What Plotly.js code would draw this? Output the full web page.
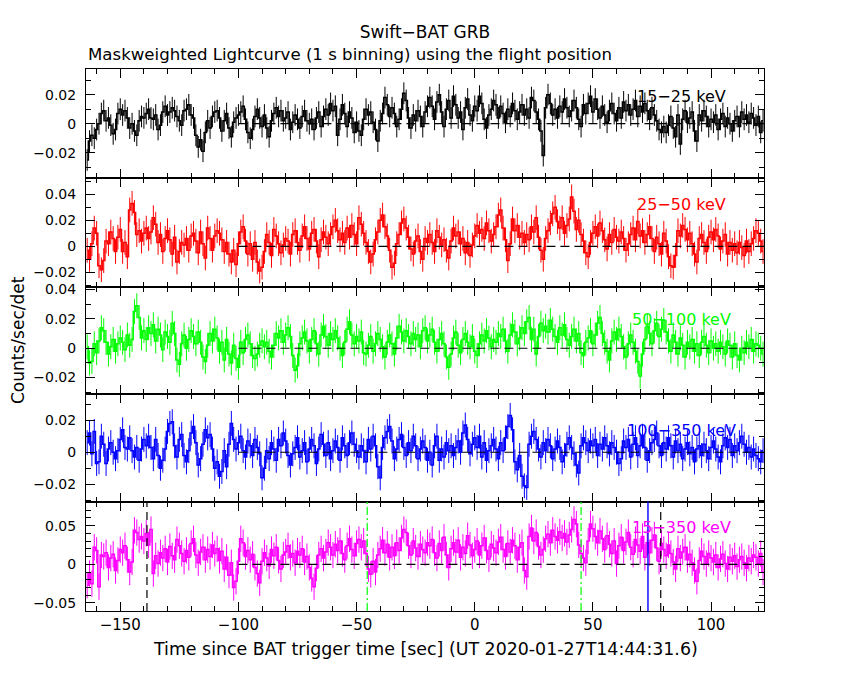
<!DOCTYPE html>
<html><head><meta charset="utf-8">
<script src="https://cdn.plot.ly/plotly-3.0.1.min.js"></script>
<style>body{margin:0;background:#fff}#chart{width:850px;height:680px}</style>
</head><body><div id="chart"></div>
<script>
// Bin centres, seconds since BAT trigger (1 s binning)
const timeSec = [
-164,-163,-162,-161,-160,-159,-158,-157,-156,-155,-154,-153,-152,-151,-150,-149,-148,-147,-146,-145,
-144,-143,-142,-141,-140,-139,-138,-137,-136,-135,-134,-133,-132,-131,-130,-129,-128,-127,-126,-125,
-124,-123,-122,-121,-120,-119,-118,-117,-116,-115,-114,-113,-112,-111,-110,-109,-108,-107,-106,-105,
-104,-103,-102,-101,-100,-99,-98,-97,-96,-95,-94,-93,-92,-91,-90,-89,-88,-87,-86,-85,
-84,-83,-82,-81,-80,-79,-78,-77,-76,-75,-74,-73,-72,-71,-70,-69,-68,-67,-66,-65,
-64,-63,-62,-61,-60,-59,-58,-57,-56,-55,-54,-53,-52,-51,-50,-49,-48,-47,-46,-45,
-44,-43,-42,-41,-40,-39,-38,-37,-36,-35,-34,-33,-32,-31,-30,-29,-28,-27,-26,-25,
-24,-23,-22,-21,-20,-19,-18,-17,-16,-15,-14,-13,-12,-11,-10,-9,-8,-7,-6,-5,
-4,-3,-2,-1,0,1,2,3,4,5,6,7,8,9,10,11,12,13,14,15,
16,17,18,19,20,21,22,23,24,25,26,27,28,29,30,31,32,33,34,35,
36,37,38,39,40,41,42,43,44,45,46,47,48,49,50,51,52,53,54,55,
56,57,58,59,60,61,62,63,64,65,66,67,68,69,70,71,72,73,74,75,
76,77,78,79,80,81,82,83,84,85,86,87,88,89,90,91,92,93,94,95,
96,97,98,99,100,101,102,103,104,105,106,107,108,109,110,111,112,113,114,115,
116,117,118,119,120,121,122];

// Count rates (counts/sec/det)
const rate15_25 = [
-0.025,-0.012,-0.008,-0.010,-0.004,
0.000,0.007,0.009,0.002,0.004,-0.001,-0.007,-0.004,0.007,0.010,
0.006,0.009,0.004,-0.003,0.000,-0.005,-0.008,0.002,0.005,0.004,
0.007,0.010,0.004,0.003,0.006,-0.004,-0.001,0.008,0.012,0.006,
0.008,0.011,0.009,0.005,0.002,-0.001,0.009,0.010,0.013,0.006,
0.004,-0.008,-0.016,-0.011,-0.019,-0.006,0.002,-0.003,0.005,0.008,
0.009,0.004,-0.005,0.002,0.007,-0.003,-0.009,0.001,0.004,0.006,
0.008,0.012,0.003,-0.006,-0.010,-0.004,0.005,0.010,0.004,-0.002,
0.006,-0.003,-0.009,0.002,0.007,0.011,0.005,0.009,0.002,0.004,
0.008,-0.004,0.001,0.006,0.003,-0.003,0.005,0.009,0.002,0.000,
0.003,-0.004,0.004,0.008,-0.002,0.005,0.010,0.006,0.014,0.009,
0.012,-0.008,0.003,0.013,0.007,-0.002,0.008,0.004,-0.006,0.001,
-0.005,-0.008,0.003,0.010,0.006,0.008,0.001,-0.004,-0.012,0.002,
0.007,0.018,0.013,0.005,0.011,0.007,-0.002,0.003,0.010,0.021,
0.016,0.004,-0.003,0.006,0.002,0.009,0.005,-0.002,0.008,0.012,
0.018,0.012,0.003,0.015,0.020,0.008,-0.002,0.010,0.016,0.004,
0.019,0.013,0.004,0.008,-0.004,0.011,0.017,0.006,0.002,0.012,
0.009,0.019,0.014,0.003,-0.003,0.006,0.010,0.016,0.013,0.004,
0.012,0.007,0.001,0.010,0.005,0.014,0.009,0.003,0.008,0.013,
0.006,0.010,0.004,0.018,0.016,0.008,0.003,-0.005,-0.022,0.011,
0.020,0.014,0.006,0.010,0.004,0.012,0.008,0.017,0.011,0.005,
0.009,0.016,0.011,0.003,-0.002,0.013,0.007,0.014,0.019,0.008,
0.017,0.010,0.004,0.012,0.006,0.001,0.009,0.014,0.007,0.002,
0.011,0.004,0.015,0.009,0.013,0.006,0.010,0.016,0.005,0.012,
0.008,0.014,0.009,0.003,0.011,0.006,0.002,-0.004,-0.006,-0.002,
-0.006,-0.001,0.005,-0.003,-0.009,0.006,-0.014,0.003,0.009,0.001,
0.004,0.008,-0.005,-0.012,0.006,0.002,0.009,0.005,-0.002,0.003,
0.001,0.006,-0.004,0.003,0.007,-0.002,0.004,0.000,-0.005,0.002,
0.005,-0.002,0.008,0.003,0.006,0.001,0.007,0.004,-0.001,0.005,
-0.006,0.002];

const rate25_50 = [
-0.003,-0.010,0.002,0.014,0.010,
-0.015,-0.018,-0.011,0.004,0.002,0.011,0.006,-0.004,0.007,0.013,
-0.004,0.003,-0.008,0.028,0.033,0.026,0.009,0.012,0.004,0.010,
0.014,0.006,0.011,0.022,0.017,0.003,0.009,-0.004,0.006,0.012,
0.005,-0.006,0.007,-0.012,-0.004,0.003,0.001,0.006,-0.003,0.008,
0.010,0.004,-0.005,0.011,0.002,-0.009,0.014,0.006,-0.003,0.008,
0.012,0.010,0.005,-0.004,0.003,-0.006,-0.012,-0.003,-0.014,0.002,
0.011,0.015,0.004,-0.006,0.002,-0.010,0.003,-0.012,-0.019,-0.016,
-0.004,0.009,0.003,-0.007,0.013,0.008,0.002,-0.005,0.001,0.006,
0.004,-0.006,0.009,0.012,0.003,-0.003,0.008,0.015,0.006,-0.002,
0.010,0.013,0.004,-0.008,0.005,0.011,0.007,0.002,0.009,0.015,
0.020,0.012,0.005,0.010,0.003,0.014,0.007,0.016,0.009,0.002,
0.022,0.017,0.010,0.003,-0.004,-0.012,-0.006,0.005,0.011,0.020,
0.024,0.015,0.008,-0.003,-0.016,-0.013,0.002,0.009,0.018,0.021,
0.014,0.007,-0.002,-0.006,0.004,0.008,-0.004,-0.010,0.006,0.003,
0.009,0.003,-0.004,0.012,0.007,0.001,0.005,-0.003,-0.009,0.004,
0.014,0.008,0.011,0.002,0.006,-0.005,0.003,-0.007,0.001,0.008,
0.016,0.010,0.013,0.006,0.018,0.012,0.004,0.009,0.015,0.024,
0.028,0.014,0.005,-0.011,0.002,0.021,0.012,0.016,0.007,0.010,
0.003,0.009,0.005,0.015,0.011,0.022,0.007,-0.003,-0.010,0.006,
0.012,0.018,0.025,0.030,0.019,0.014,0.022,0.010,0.016,0.021,
0.038,0.027,0.013,0.020,0.009,0.004,-0.005,-0.008,0.003,0.010,
0.015,0.008,0.018,0.012,0.005,-0.002,0.009,0.003,0.013,0.007,
0.004,0.011,0.006,-0.003,0.002,0.009,0.014,0.005,0.019,0.008,
0.012,0.003,0.009,0.015,0.006,-0.004,0.007,0.002,-0.006,0.010,
0.004,-0.008,-0.015,-0.016,-0.007,0.012,0.008,0.016,0.013,0.005,
0.010,0.002,-0.006,-0.012,0.006,0.009,0.003,-0.004,0.007,0.011,
0.005,0.013,0.008,-0.002,0.004,0.009,-0.006,0.003,-0.003,0.002,
-0.005,0.003,-0.001,-0.007,0.004,-0.004,0.002,0.006,0.012,0.010,
0.004,-0.004];

const rate50_100 = [
0.001,-0.010,-0.009,0.003,-0.003,
0.005,0.014,0.012,0.004,-0.004,0.001,0.006,-0.002,0.003,0.007,
0.004,-0.001,0.009,0.002,0.006,0.025,0.029,0.021,0.007,0.012,
0.006,0.014,0.010,0.016,0.005,0.013,0.009,-0.001,0.011,0.008,
0.004,0.017,0.010,-0.008,-0.011,0.003,0.009,0.000,0.006,0.012,
0.008,0.003,0.011,0.004,-0.006,-0.009,0.002,0.010,0.005,0.013,
0.007,-0.002,0.004,-0.008,0.006,-0.004,-0.010,0.002,-0.007,-0.013,
0.004,-0.003,0.006,0.009,0.003,-0.005,-0.007,-0.004,0.002,0.005,
0.001,0.004,-0.002,-0.006,0.002,0.010,0.007,0.012,0.004,0.009,
0.014,0.008,-0.005,-0.015,-0.012,0.003,0.007,0.011,0.005,-0.002,
0.006,0.012,0.003,-0.004,0.009,0.015,0.008,0.002,0.010,0.006,
0.012,0.007,0.000,-0.005,0.004,0.013,0.018,0.009,0.003,0.008,
0.005,0.011,-0.003,-0.004,0.002,0.008,-0.002,0.003,0.010,0.006,
0.001,-0.006,0.004,0.009,0.003,-0.004,0.007,0.015,0.011,0.005,
0.012,0.008,0.003,0.010,0.006,0.009,0.001,0.012,0.014,0.005,
0.009,0.013,0.004,-0.002,0.006,0.010,0.003,-0.006,-0.013,-0.004,
0.007,0.011,0.002,-0.003,0.006,0.010,0.004,0.001,0.008,-0.002,
-0.005,0.003,0.009,0.005,0.012,0.007,0.001,0.006,0.004,0.010,
0.008,0.013,0.005,-0.002,0.009,0.016,0.011,0.003,0.007,0.014,
0.010,0.018,0.021,0.006,0.013,-0.004,0.008,0.017,0.012,0.015,
0.011,0.019,0.013,0.008,0.004,0.014,0.009,0.016,0.006,0.002,
0.008,0.013,0.005,0.010,-0.003,-0.005,0.004,0.007,0.012,0.003,
0.009,0.017,0.021,0.010,0.004,-0.002,-0.008,0.005,0.011,0.006,
0.013,0.008,0.001,-0.006,0.003,0.009,0.004,-0.002,-0.009,-0.019,
-0.004,0.006,0.015,0.010,0.003,0.012,0.017,0.008,0.013,0.019,
0.011,0.005,-0.002,0.009,0.004,-0.004,0.007,0.002,-0.006,0.004,
0.001,0.006,-0.002,0.003,-0.005,0.004,0.008,0.002,-0.003,0.005,
0.000,0.003,-0.002,0.004,0.001,-0.004,0.005,0.002,-0.006,0.003,
-0.005,-0.008,0.000,-0.003,0.004,0.001,0.006,-0.002,0.003,0.002,
0.000,-0.004];

const rate100_350 = [
0.006,0.012,-0.001,0.013,-0.007,
-0.006,0.010,0.005,-0.007,0.002,0.006,0.000,-0.004,0.001,0.008,
0.014,0.003,0.002,0.009,0.001,-0.003,0.003,-0.005,0.002,0.008,
0.004,0.010,0.003,-0.004,0.008,-0.002,-0.010,-0.005,0.002,0.013,
0.018,0.019,0.004,-0.003,0.008,0.011,-0.002,-0.006,0.001,0.012,
0.016,0.006,-0.008,-0.004,0.005,0.014,0.009,0.011,0.002,-0.010,
-0.006,-0.015,-0.012,0.001,-0.009,0.005,0.018,0.008,0.002,0.006,
0.010,0.001,-0.003,0.007,0.004,-0.002,0.008,0.003,-0.001,-0.016,
-0.010,0.001,-0.004,0.006,0.002,-0.005,0.008,0.004,0.012,0.007,
-0.002,-0.008,-0.001,0.003,0.009,-0.003,0.001,0.006,-0.006,0.002,
0.008,0.004,-0.007,0.002,0.011,0.005,-0.002,0.006,-0.004,0.001,
0.007,0.003,-0.005,0.009,0.004,-0.002,0.006,0.012,0.005,0.001,
-0.003,0.004,0.001,-0.006,0.008,0.002,0.010,0.004,-0.009,-0.016,
0.003,0.009,0.013,0.016,0.007,-0.004,0.002,0.008,0.011,0.003,
-0.002,0.006,0.001,0.010,0.004,-0.004,0.002,0.007,0.003,-0.005,
0.000,-0.008,0.004,0.010,-0.005,0.002,-0.003,0.006,0.001,0.004,
-0.002,0.003,0.007,0.000,0.012,0.017,0.008,-0.001,0.005,0.009,
0.003,0.010,-0.003,0.006,-0.005,0.001,0.004,0.008,0.002,-0.004,
0.006,0.001,0.009,0.016,0.023,0.014,-0.006,-0.011,-0.002,-0.015,
-0.021,-0.022,0.005,0.010,0.013,0.008,0.002,-0.003,0.006,0.001,
0.008,0.004,-0.004,0.002,0.007,0.003,-0.006,-0.002,0.005,0.009,
0.003,-0.001,-0.008,-0.013,0.004,0.009,0.006,0.001,0.007,0.004,
0.008,-0.002,0.005,0.002,0.009,0.004,-0.001,0.006,0.003,0.000,
-0.007,-0.004,0.007,0.003,0.008,-0.003,0.005,0.009,-0.002,0.004,
0.010,0.003,-0.005,0.001,0.006,0.008,0.012,0.004,-0.002,0.006,
0.002,0.009,0.004,-0.003,0.007,0.001,0.005,-0.004,0.002,0.006,
-0.001,0.003,-0.006,0.002,0.004,-0.002,0.005,0.001,-0.004,0.003,
0.007,0.002,-0.003,-0.006,0.004,0.009,0.003,0.008,-0.002,0.004,
0.001,0.006,0.010,0.005,0.000,0.003,-0.003,0.002,-0.002,-0.004,
-0.006,0.001];

const rate15_350 = [
-0.027,-0.012,-0.025,0.022,0.018,
-0.029,0.012,0.010,0.015,-0.004,0.008,0.013,-0.008,0.005,0.019,
0.015,0.024,0.006,-0.010,0.003,0.044,0.041,0.032,0.036,0.030,
0.040,0.025,0.045,-0.012,0.011,0.001,0.015,0.008,0.020,0.003,
0.023,0.011,0.006,0.032,0.024,0.014,0.004,0.018,0.009,0.027,
0.033,0.012,0.002,0.016,0.022,0.006,0.019,0.010,0.025,0.014,
0.020,0.005,0.017,-0.006,0.009,-0.014,0.002,-0.030,-0.022,0.004,
0.033,0.028,0.010,0.018,0.006,0.013,-0.004,-0.012,-0.024,0.004,
0.015,0.008,-0.002,0.019,0.011,0.022,0.005,-0.006,0.012,0.016,
0.024,0.009,0.014,0.002,0.017,0.012,0.020,0.003,0.010,-0.004,
-0.018,-0.029,-0.005,0.012,0.020,0.008,0.016,0.028,0.022,0.012,
0.026,0.018,0.030,0.014,0.006,0.024,0.033,0.019,0.011,0.027,
0.032,0.022,0.030,0.014,-0.006,-0.013,0.004,-0.010,0.012,0.020,
0.031,0.015,0.026,0.009,0.022,0.011,0.028,0.018,0.034,0.045,
0.041,0.024,0.012,0.030,0.021,0.010,0.026,0.019,0.015,0.028,
0.024,0.032,0.015,0.008,0.027,0.018,0.035,0.012,-0.004,0.020,
0.028,0.016,0.031,0.009,0.022,0.014,0.037,0.025,0.011,0.019,
0.030,0.012,0.024,0.034,0.018,0.007,0.026,0.021,0.015,0.029,
0.035,0.019,0.010,0.027,0.016,0.031,0.024,0.006,0.022,0.028,
-0.008,-0.016,0.036,0.047,0.030,0.041,0.023,0.012,0.019,0.033,
0.039,0.028,0.044,0.036,0.031,0.042,0.034,0.040,0.029,0.038,
0.045,0.058,0.052,0.025,0.014,0.008,0.002,0.030,0.052,0.046,
0.036,0.028,0.043,0.033,0.019,0.037,0.026,0.014,0.030,0.001,
0.024,0.035,0.018,0.029,0.041,0.022,0.013,0.032,0.025,0.017,
0.036,0.009,0.028,0.015,0.031,0.038,0.021,0.004,0.027,0.019,
0.011,0.025,0.014,0.003,-0.006,0.020,0.008,0.016,0.022,0.006,
0.013,0.002,-0.008,-0.022,0.005,0.017,0.010,0.001,0.014,0.008,
0.003,0.012,-0.004,0.007,0.013,0.001,-0.006,0.009,0.004,0.011,
-0.003,0.006,0.010,0.002,-0.005,0.008,0.004,0.012,0.009,0.001,
0.014,-0.010];

// 1-sigma errors per band
const rateErr = [0.0075, 0.0095, 0.0085, 0.0078, 0.017];
const bandLabels = ['15\u221225 keV', '25\u221250 keV', '50\u2212100 keV', '100\u2212350 keV', '15\u2212350 keV'];
const bandColors = ['#000000', '#ff0000', '#00ff00', '#0000ff', '#ff00ff'];
const yRanges = [[-0.0371, 0.0377], [-0.0309, 0.0529], [-0.0312, 0.0421], [-0.0308, 0.0364], [-0.0604, 0.0812]];
const yTickVals = [[-0.02, 0, 0.02], [-0.02, 0, 0.02, 0.04], [-0.02, 0, 0.02, 0.04], [-0.02, 0, 0.02], [-0.05, 0, 0.05]];
const xRange = [-164.5, 122.4];
const zeroLineStart = -100;
const blackDashTimes = [-138.7, 78.7];
const greenDashDotTimes = [-45.5, 45.0];
const blueSolidTimes = [73.3];

const series = [rate15_25, rate25_50, rate50_100, rate100_350, rate15_350];

// layout geometry
const domains = [[0.7998, 1.0], [0.5987, 0.7998], [0.4004, 0.5987], [0.2020, 0.4004], [0.0, 0.2020]];
const FONT = 'DejaVu Sans, sans-serif';

const data = [];
const layout = {
  width: 850, height: 680,
  margin: {l: 86, r: 86, t: 69, b: 69},
  paper_bgcolor: '#ffffff', plot_bgcolor: '#ffffff',
  showlegend: false,
  font: {family: FONT, color: '#000000', size: 14},
  title: {text: 'Swift\u2212BAT GRB', x: 0.5, xref: 'paper', xanchor: 'center', y: 1 - 32/680, yref: 'container', yanchor: 'middle', font: {family: FONT, size: 17, color: '#000'}},
  annotations: [], shapes: []
};

series.forEach((vals, i) => {
  const k = i + 1;
  const xa = k === 1 ? 'x' : 'x' + k;
  const ya = k === 1 ? 'y' : 'y' + k;
  data.push({
    x: timeSec, y: vals, type: 'scatter', mode: 'lines',
    xaxis: xa, yaxis: ya,
    line: {shape: 'hvh', color: bandColors[i], width: 1.5},
    error_y: {type: 'constant', value: rateErr[i], color: bandColors[i], thickness: 1, width: 0},
    hoverinfo: 'skip'
  });
  layout['xaxis' + (k === 1 ? '' : k)] = {
    domain: [0, 1], range: xRange, anchor: ya,
    showline: true, mirror: 'ticks', linecolor: '#000', linewidth: 1,
    ticks: 'inside', ticklen: 9, tickcolor: '#000', tickwidth: 1,
    tick0: 0, dtick: 50,
    minor: {dtick: 10, tick0: 0, ticks: 'inside', ticklen: 5, tickcolor: '#000', tickwidth: 1},
    showticklabels: k === 5, showgrid: false, zeroline: false,
    tickfont: {family: FONT, size: 15, color: '#000'}
  };
  if (k !== 1) layout['xaxis' + k].matches = 'x';
  layout['yaxis' + (k === 1 ? '' : k)] = {
    domain: domains[i], range: yRanges[i], anchor: xa,
    showline: true, mirror: 'ticks', linecolor: '#000', linewidth: 1,
    ticks: 'inside', ticklen: 9, tickcolor: '#000', tickwidth: 1,
    tickmode: 'array', tickvals: yTickVals[i],
    minor: {dtick: 0.01, tick0: 0, ticks: 'inside', ticklen: 5, tickcolor: '#000', tickwidth: 1},
    showgrid: false, zeroline: false, ticklabelstandoff: 6,
    tickfont: {family: FONT, size: 14, color: '#000'}
  };
  // zero reference line
  layout.shapes.push({type: 'line', xref: xa, yref: ya, x0: zeroLineStart, x1: xRange[1], y0: 0, y1: 0,
    line: {color: '#000', width: 1.2, dash: '9px,5px'}, layer: 'above'});
  // band label
  layout.annotations.push({text: bandLabels[i], xref: 'paper', yref: ya + ' domain', x: 0.8776, y: [0.75, 0.75, 0.69, 0.66, 0.76][i],
    xanchor: 'center', yanchor: 'middle', showarrow: false, font: {family: FONT, size: 16, color: bandColors[i]}});
});

// vertical markers in the bottom panel
blackDashTimes.forEach(t => layout.shapes.push({type: 'line', xref: 'x5', yref: 'y5 domain', x0: t, x1: t, y0: 0, y1: 1,
  line: {color: '#000', width: 1.2, dash: '8px,5px'}, layer: 'above'}));
greenDashDotTimes.forEach(t => layout.shapes.push({type: 'line', xref: 'x5', yref: 'y5 domain', x0: t, x1: t, y0: 0, y1: 1,
  line: {color: '#00ff00', width: 1.2, dash: '8px,3px,2px,3px'}, layer: 'above'}));
blueSolidTimes.forEach(t => layout.shapes.push({type: 'line', xref: 'x5', yref: 'y5 domain', x0: t, x1: t, y0: 0, y1: 1,
  line: {color: '#0000ff', width: 1.4}, layer: 'above'}));

// subtitle, axis titles
layout.annotations.push({text: 'Maskweighted Lightcurve (1 s binning) using the flight position', xref: 'paper', yref: 'paper',
  x: 0, y: (611 - 54) / 542, xanchor: 'left', yanchor: 'middle', showarrow: false, font: {family: FONT, size: 16.6, color: '#000'}});
layout.annotations.push({text: 'Time since BAT trigger time [sec] (UT 2020-01-27T14:44:31.6)', xref: 'paper', yref: 'paper',
  x: 0.5, y: (611 - 649) / 542, xanchor: 'center', yanchor: 'middle', showarrow: false, font: {family: FONT, size: 17.4, color: '#000'}});
layout.annotations.push({text: 'Counts/sec/det', xref: 'paper', yref: 'paper', textangle: -90,
  x: (18 - 86) / 678, y: 0.5, xanchor: 'center', yanchor: 'middle', showarrow: false, font: {family: FONT, size: 17, color: '#000'}});

Plotly.newPlot('chart', data, layout, {displayModeBar: false, staticPlot: true});
</script>
</body></html>
